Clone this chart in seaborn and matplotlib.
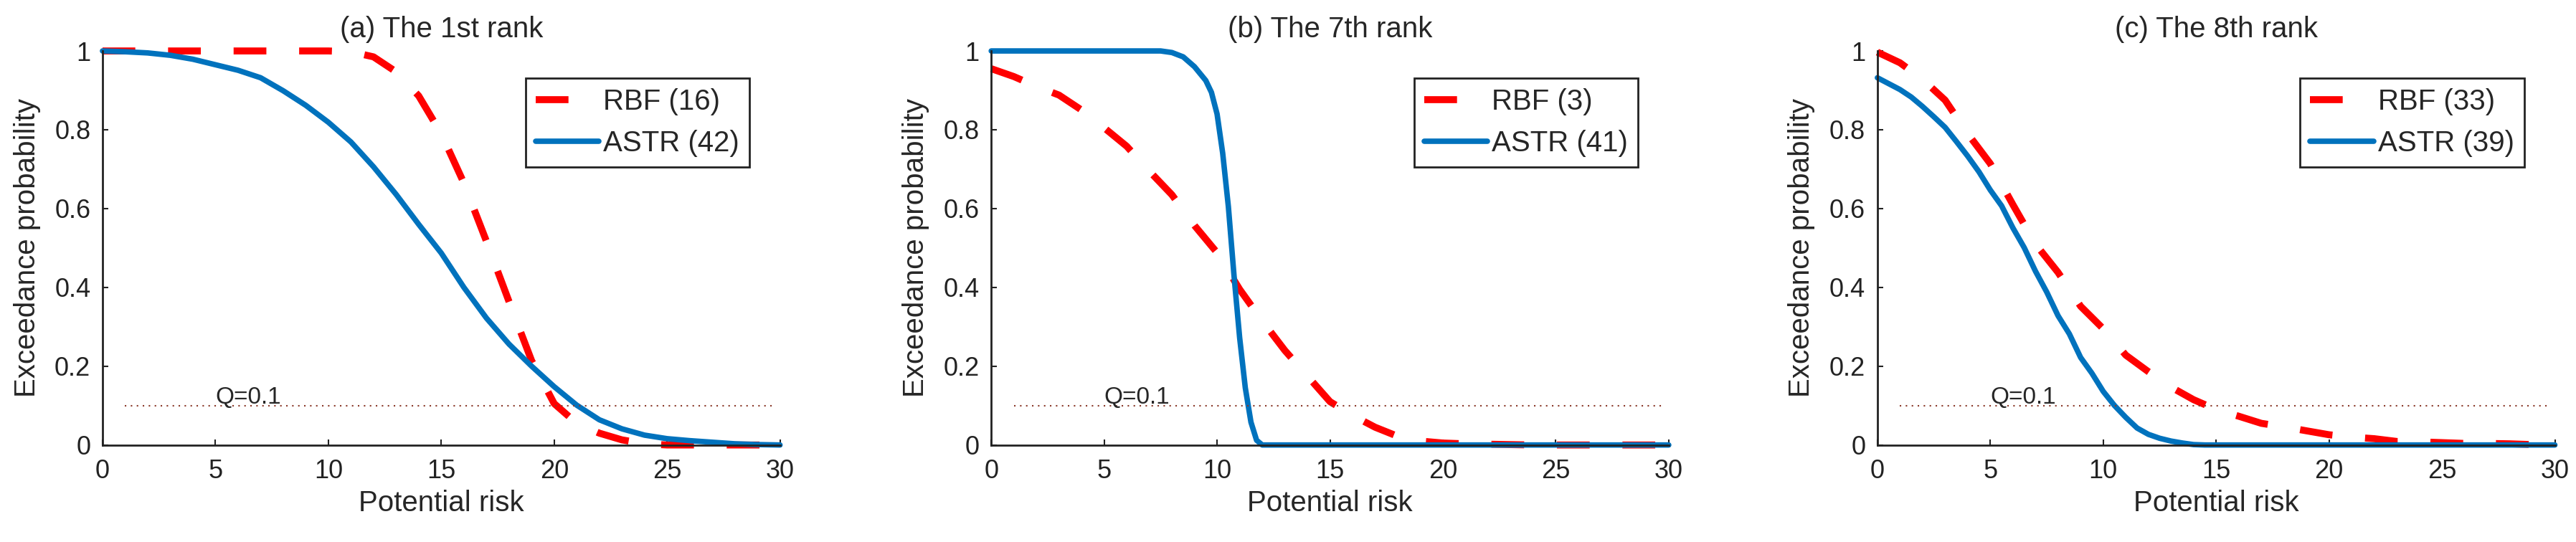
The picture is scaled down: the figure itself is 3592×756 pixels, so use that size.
import numpy as np
import pandas as pd
import matplotlib
matplotlib.use("Agg")
import matplotlib.pyplot as plt
import seaborn as sns

risk = list(range(0, 31))

rbf_1st = [1.0, 1.0, 1.0, 1.0, 1.0, 1.0, 1.0, 1.0, 1.0, 1.0, 1.0,
           0.998, 0.985, 0.947, 0.886, 0.79, 0.665, 0.517, 0.364, 0.214, 0.105,
           0.055, 0.03, 0.013, 0.003, 0.0, 0.0, 0.0, 0.0, 0.0, 0.0]
astr_1st = [1.0, 0.998, 0.995, 0.989, 0.979, 0.965, 0.951, 0.932, 0.899, 0.862, 0.819,
            0.769, 0.706, 0.636, 0.56, 0.487, 0.40, 0.322, 0.256, 0.20, 0.148,
            0.101, 0.064, 0.041, 0.025, 0.016, 0.011, 0.007, 0.003, 0.001, 0.0]

rbf_7th = [0.955, 0.935, 0.91, 0.888, 0.85, 0.805, 0.758, 0.695, 0.635, 0.557, 0.488,
           0.395, 0.315, 0.24, 0.175, 0.11, 0.075, 0.045, 0.022, 0.01, 0.005,
           0.003, 0.002, 0.001, 0.0, 0.0, 0.0, 0.0, 0.0, 0.0, 0.0]
astr_7th_x = [0, 7.5, 8, 8.5, 9, 9.5, 9.75, 10, 10.25, 10.5, 10.75, 11, 11.25, 11.5, 11.75, 12, 30]
astr_7th = [1.0, 1.0, 0.996, 0.985, 0.96, 0.925, 0.895, 0.84, 0.74, 0.605, 0.43, 0.272,
            0.145, 0.058, 0.012, 0.0, 0.0]

rbf_8th = [0.997, 0.97, 0.928, 0.875, 0.79, 0.714, 0.61, 0.51, 0.438, 0.352, 0.295,
           0.228, 0.186, 0.147, 0.115, 0.09, 0.073, 0.055, 0.046, 0.036, 0.026,
           0.02, 0.016, 0.009, 0.008, 0.006, 0.004, 0.004, 0.003, 0.001, 0.0]
astr_8th_x = [0, 1, 1.5, 2, 2.5, 3, 3.5, 4, 4.5, 5, 5.5, 6, 6.5, 7, 7.5, 8, 8.5, 9, 9.5,
              10, 10.5, 11, 11.5, 12, 12.5, 13, 13.5, 14, 14.5, 30]
astr_8th = [0.932, 0.902, 0.883, 0.859, 0.833, 0.806, 0.77, 0.733, 0.693, 0.647, 0.607,
            0.551, 0.501, 0.441, 0.388, 0.328, 0.282, 0.222, 0.182, 0.136, 0.10,
            0.07, 0.043, 0.027, 0.017, 0.01, 0.005, 0.001, 0.0, 0.0]

titles = ["(a) The 1st rank", "(b) The 7th rank", "(c) The 8th rank"]
rbf_labels = ["RBF (16)", "RBF (3)", "RBF (33)"]
astr_labels = ["ASTR (42)", "ASTR (41)", "ASTR (39)"]
q_level = 0.1

panels = [
    (risk, rbf_1st, risk, astr_1st),
    (risk, rbf_7th, astr_7th_x, astr_7th),
    (risk, rbf_8th, astr_8th_x, astr_8th),
]

sns.set_style("white")
plt.rcParams['font.family'] = ['Liberation Sans', 'DejaVu Sans']

fig = plt.figure(figsize=(35.92, 7.56), dpi=100)
lefts = [0.0398, 0.3848, 0.7288]
width = 0.263
bottom, height = 0.179, 0.727

red = '#FF0000'
blue = '#0072BD'

for i, (rx, ry, bx, by) in enumerate(panels):
    ax = fig.add_axes([lefts[i], bottom, width, height])
    sns.lineplot(x=rx, y=ry, ax=ax, color=red, linewidth=7, label=rbf_labels[i],
                 linestyle=(0, (4.7, 4.7)), dash_capstyle='butt', errorbar=None, sort=False)
    sns.lineplot(x=bx, y=by, ax=ax, color=blue, linewidth=5.5, label=astr_labels[i],
                 errorbar=None, sort=False)
    for ln in ax.lines:
        ln.set_clip_on(False)
    ax.plot([1, 29.7], [q_level, q_level], ls=(0, (1, 3)), color='#8B3A2A', lw=1.5)
    ax.text(5, q_level + 0.005, "Q=0.1", fontsize=24, ha='left', va='baseline')

    ax.set_xlim(0, 30)
    ax.set_ylim(0, 1)
    ax.set_xticks([0, 5, 10, 15, 20, 25, 30])
    ax.set_yticks([0, 0.2, 0.4, 0.6, 0.8, 1])
    ax.set_yticklabels(["0", "0.2", "0.4", "0.6", "0.8", "1"])
    ax.tick_params(direction='in', length=6, width=1.5, labelsize=26,
                   colors='#222222', bottom=True, left=True)
    ax.tick_params(axis='x', pad=14)
    ax.tick_params(axis='y', pad=12)
    for s in ['top', 'right']:
        ax.spines[s].set_visible(False)
    for s in ['left', 'bottom']:
        ax.spines[s].set_linewidth(2)
        ax.spines[s].set_color('#222222')
    ax.set_xlabel("Potential risk", fontsize=29, labelpad=6)
    ax.set_ylabel("Exceedance probability", fontsize=29, labelpad=14)
    ax.set_title(titles[i], fontsize=29, pad=14)

    leg = ax.legend(loc='upper right', bbox_to_anchor=(0.955, 0.931), borderaxespad=0,
                    fontsize=29, handlelength=2.2, handletextpad=0.15, borderpad=0.35,
                    labelspacing=0.5, frameon=True, fancybox=False, framealpha=1)
    leg.get_frame().set_edgecolor('#222222')
    leg.get_frame().set_linewidth(2)

fig.savefig("out.png", dpi=100)
